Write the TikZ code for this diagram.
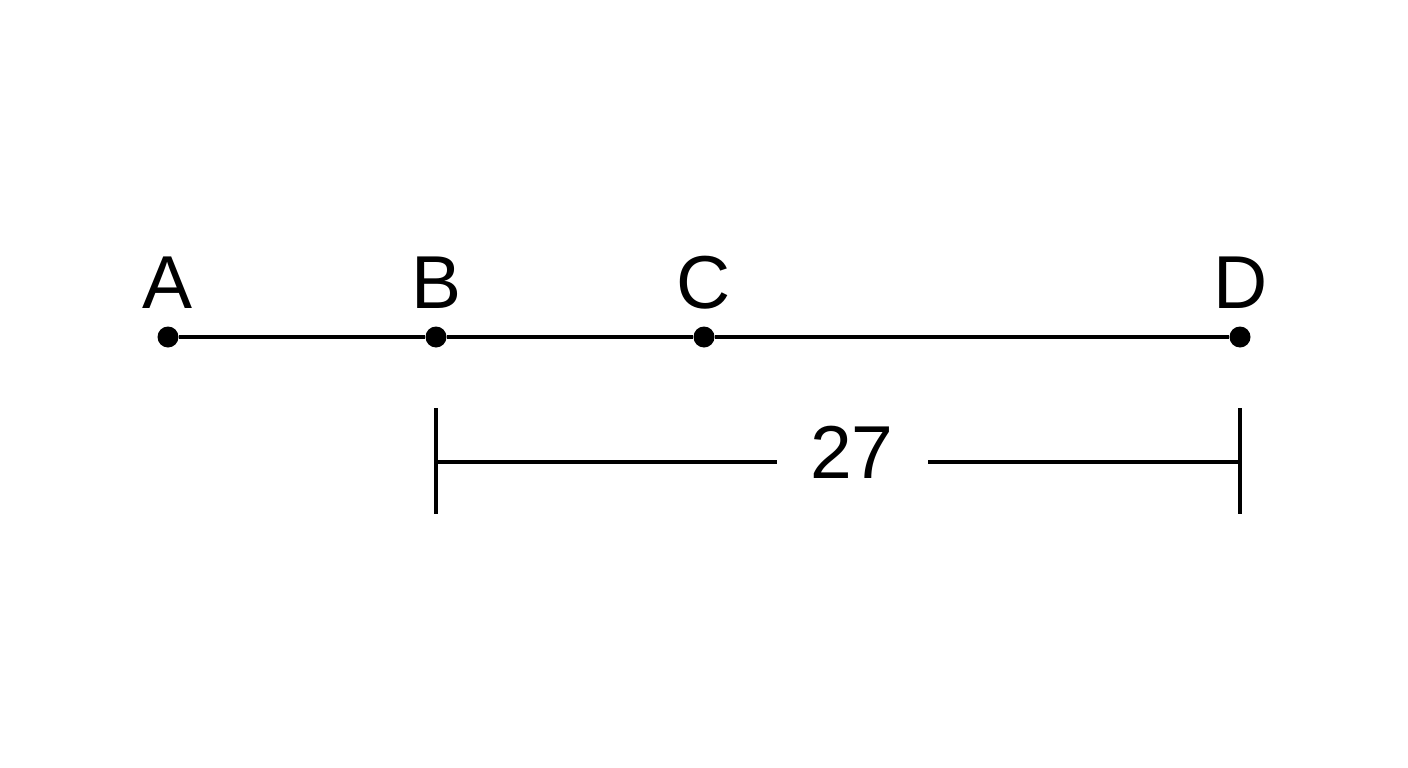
\documentclass[tikz,border=0pt]{standalone}
\usepackage{fontspec}
\setmainfont{Liberation Sans}
\begin{document}
\begin{tikzpicture}[x=1pt,y=-1pt,
  lbl/.style={anchor=base,inner sep=0pt,font=\fontsize{75}{80}\selectfont},
  pt/.style={circle,fill=black,inner sep=0pt,minimum size=21pt},
  seg/.style={line width=4.5pt},
  tick/.style={line width=4.5pt}]
\useasboundingbox[fill=white] (0,0) rectangle (1408,768);
\node[pt] (A) at (168,337) {};
\node[pt] (B) at (436,337) {};
\node[pt] (C) at (704,337) {};
\node[pt] (D) at (1240,337) {};
\node[lbl] (lA) at (168,308) {A};
\node[lbl] (lB) at (437,308) {B};
\node[lbl] (lC) at (704,308) {C};
\node[lbl] (lD) at (1241,308) {D};
\draw[seg] (A) -- (B) -- (C) -- (D);
\coordinate (t1a) at (436,408);
\coordinate (t1b) at (436,514);
\coordinate (t2a) at (1240,408);
\coordinate (t2b) at (1240,514);
\draw[tick] (t1a) -- (t1b);
\draw[tick] (t2a) -- (t2b);
\coordinate (m1) at (436,462);
\coordinate (m2) at (1240,462);
\node[lbl] (dim) at (852,478) {27};
\coordinate (e1) at (777,462);
\coordinate (e2) at (928,462);
\draw[seg] (m1) -- (e1);
\draw[seg] (e2) -- (m2);
\end{tikzpicture}
\end{document}
